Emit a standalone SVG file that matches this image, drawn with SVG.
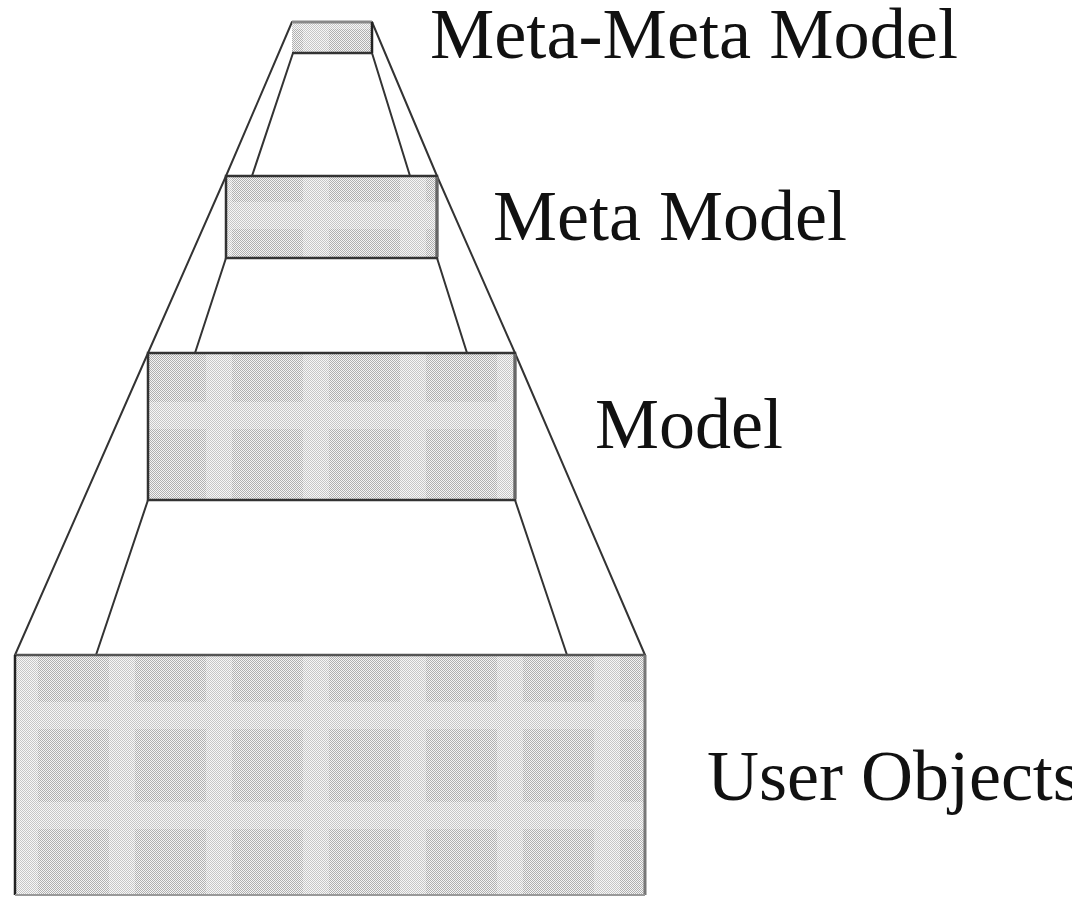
<svg xmlns="http://www.w3.org/2000/svg" width="1086" height="898" viewBox="0 0 1086 898">
  <defs>
    <pattern id="checker" x="0" y="0" width="2" height="2" patternUnits="userSpaceOnUse">
      <rect x="0" y="0" width="2" height="2" fill="#f4f4f4"/>
      <rect x="0" y="0" width="1" height="1" fill="#b0b0b0"/>
      <rect x="1" y="1" width="1" height="1" fill="#b0b0b0"/>
    </pattern>
    <pattern id="bands" x="12" y="2" width="97" height="100" patternUnits="userSpaceOnUse">
      <path d="M0 0H97V27H26V100H0Z" fill="#ffffff" fill-opacity="0.28"/>
    </pattern>
    <clipPath id="edge">
      <rect x="0" y="0" width="1072" height="898"/>
    </clipPath>
    <style>
      .fill { fill: url(#checker); }
      .band { fill: url(#bands); }
      .frame { fill: none; stroke: #333333; stroke-width: 2.5; }
      .rside { fill: none; stroke: #666666; stroke-width: 3; }
      .conn line { stroke: #333333; stroke-width: 2; stroke-linecap: round; }
      .lbl { font-family: "Liberation Serif", "Times New Roman", serif; font-size: 72px; fill: #111111; }
    </style>
  </defs>
  <rect x="0" y="0" width="1086" height="898" fill="#ffffff"/>

  <g id="connectors" class="conn">
    <line x1="292" y1="22" x2="226" y2="176"/>
    <line x1="226" y1="176" x2="148" y2="353"/>
    <line x1="148" y1="353" x2="15" y2="655"/>
    <line x1="293" y1="53" x2="252" y2="176"/>
    <line x1="226" y1="258" x2="195" y2="353"/>
    <line x1="148" y1="500" x2="96" y2="655"/>
    <line x1="372" y1="22" x2="437" y2="176"/>
    <line x1="437" y1="176" x2="515" y2="353"/>
    <line x1="515" y1="353" x2="645" y2="655"/>
    <line x1="372" y1="53" x2="410" y2="176"/>
    <line x1="437" y1="258" x2="467" y2="353"/>
    <line x1="515" y1="500" x2="567" y2="655"/>
  </g>

  <g id="meta-meta-model">
    <rect class="fill" x="292" y="22" width="80" height="31"/>
    <rect class="band" x="292" y="22" width="80" height="31"/>
    <line x1="292" y1="22" x2="372" y2="22" stroke="#888888" stroke-width="3"/>
    <line x1="292" y1="53" x2="372" y2="53" stroke="#333333" stroke-width="2.5"/>
    <line x1="372" y1="22" x2="372" y2="53" stroke="#222222" stroke-width="2.5"/>
    <text class="lbl" x="430" y="58" textLength="528" lengthAdjust="spacingAndGlyphs" font-size="68">Meta-Meta Model</text>
  </g>

  <g id="meta-model">
    <rect class="fill" x="226" y="176" width="211" height="82"/>
    <rect class="band" x="226" y="176" width="211" height="82"/>
    <rect class="frame" x="226" y="176" width="211" height="82"/>
    <line class="rside" x1="437" y1="177" x2="437" y2="257"/>
    <text class="lbl" x="493" y="240">Meta Model</text>
  </g>

  <g id="model">
    <rect class="fill" x="148" y="353" width="367" height="147"/>
    <rect class="band" x="148" y="353" width="367" height="147"/>
    <rect class="frame" x="148" y="353" width="367" height="147"/>
    <line class="rside" x1="515" y1="354" x2="515" y2="499"/>
    <text class="lbl" x="595" y="448">Model</text>
  </g>

  <g id="user-objects">
    <rect class="fill" x="15" y="655" width="630" height="240"/>
    <rect class="band" x="15" y="655" width="630" height="240"/>
    <line x1="15" y1="655" x2="645" y2="655" stroke="#555555" stroke-width="2.5"/>
    <line x1="15" y1="655" x2="15" y2="895" stroke="#222222" stroke-width="2.5"/>
    <line x1="645" y1="655" x2="645" y2="895" stroke="#777777" stroke-width="3"/>
    <line x1="15" y1="895" x2="645" y2="895" stroke="#999999" stroke-width="2"/>
    <text class="lbl" x="707" y="800" clip-path="url(#edge)">User Objects</text>
  </g>
</svg>
